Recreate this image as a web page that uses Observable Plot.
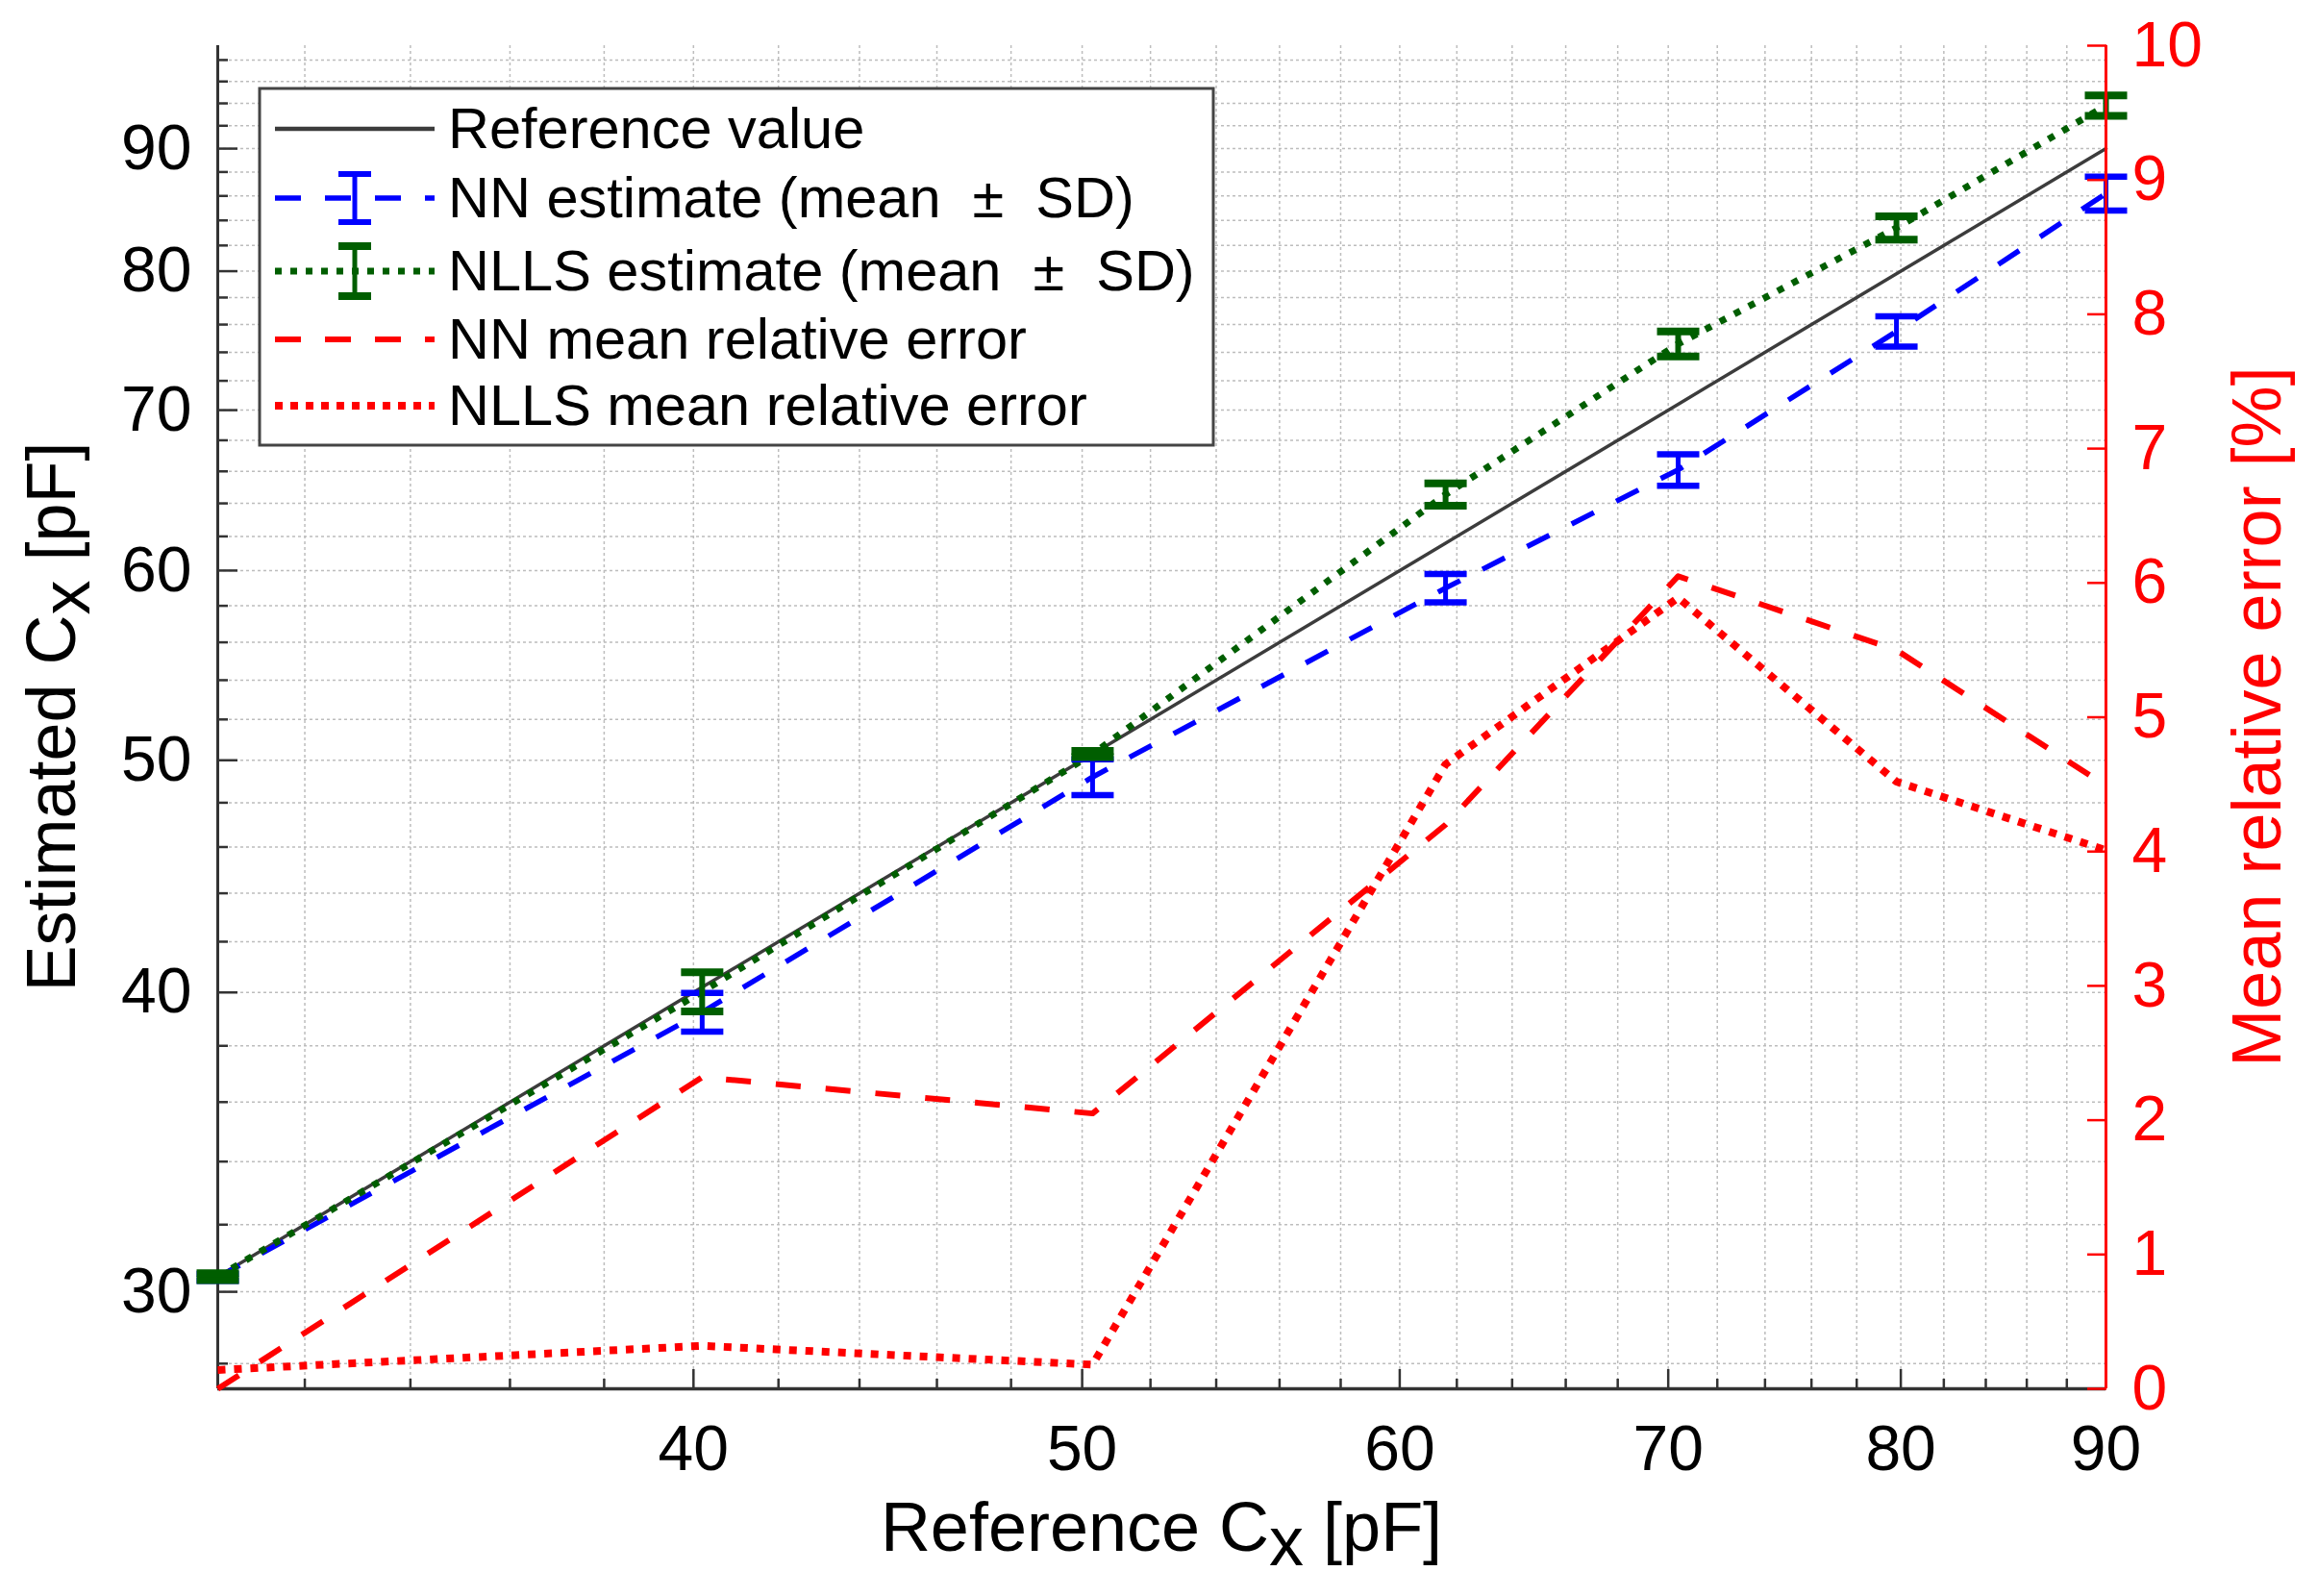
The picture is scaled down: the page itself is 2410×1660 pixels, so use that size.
<!DOCTYPE html>
<html>
<head>
<meta charset="utf-8">
<script src="https://cdn.jsdelivr.net/npm/d3@7"></script>
<script src="https://cdn.jsdelivr.net/npm/@observablehq/plot@0.6"></script>
<style>
html, body { margin: 0; padding: 0; background: #fff; }
#chart { position: relative; width: 2410px; height: 1660px; }
#chart svg { position: absolute; left: 0; top: 0; max-width: none; }
</style>
</head>
<body>
<div id="chart"></div>
<script>
// ---- data ----
const referenceCx   = [30.44, 40.2, 50.3, 61.6, 70.4, 79.8, 90.0];
const nnMean        = [30.42, 39.25, 49.2, 59.0, 66.1, 75.5, 86.2];
const nnSD          = [0.1, 0.73, 0.85, 0.8, 1.0, 1.1, 1.4];
const nllsMean      = [30.44, 40.03, 50.3, 64.55, 74.6, 83.4, 93.8];
const nllsSD        = [0.1, 0.75, 0.15, 0.7, 0.9, 0.93, 0.91];
const nnRelError    = [0.0, 2.32, 2.05, 4.2, 6.05, 5.5, 4.49];
const nllsRelError  = [0.14, 0.32, 0.18, 4.65, 5.89, 4.52, 4.01];

const xMajorTicks = [40, 50, 60, 70, 80, 90];
const yMajorTicks = [30, 40, 50, 60, 70, 80, 90];
const errTicks    = [0, 1, 2, 3, 4, 5, 6, 7, 8, 9, 10];
const xMinorTicks = d3.range(32, 90, 2).filter(v => v % 10 !== 0);
const yMinorTicks = d3.range(28, 100, 2).filter(v => v % 10 !== 0);
const xGridValues = d3.range(32, 91, 2);
const yGridValues = d3.range(28, 99, 2);
const yDomain   = [27.33, 99.36];
const errDomain = [0, 10];

const legendLabels = [
  "Reference value",
  "NN estimate (mean  \u00B1  SD)",
  "NLLS estimate (mean  \u00B1  SD)",
  "NN mean relative error",
  "NLLS mean relative error"
];

// ---- styling ----
const W = 2410, H = 1660;
const M = {left: 226, right: 220, top: 47, bottom: 216};
const FONT = "'Liberation Sans', Arial, Helvetica, sans-serif";
const AX = "#333333", REF = "#3c3c3c", BLUE = "#0000ff", GREEN = "#005e00", RED = "#ff0000";
const GRID = {stroke: "#bdbdbd", strokeOpacity: 1, strokeWidth: 1.5, strokeDasharray: "3,3"};

const rows = referenceCx.map((x, i) => ({
  ref: x, nn: nnMean[i], nnSD: nnSD[i], nlls: nllsMean[i], nllsSD: nllsSD[i],
  nnErr: nnRelError[i], nllsErr: nllsRelError[i]
}));
const xDomain = d3.extent(referenceCx);

const capSymbol = {draw(ctx, size) { const r = Math.sqrt(size / Math.PI); ctx.moveTo(-r, 0); ctx.lineTo(r, 0); }};

const common = {
  width: W, height: H,
  marginLeft: M.left, marginRight: M.right, marginTop: M.top, marginBottom: M.bottom
};

const basePlot = Plot.plot({
  ...common,
  style: {fontFamily: FONT, background: "white", overflow: "visible"},
  x: {type: "log", domain: xDomain, axis: null},
  y: {type: "log", domain: yDomain, axis: null},
  marks: [
    Plot.gridX(xGridValues, GRID),
    Plot.gridY(yGridValues, GRID),
    Plot.axisY(yMinorTicks, {anchor: "left", tickSize: -11, fill: "none", stroke: AX, strokeWidth: 2.5, label: null}),
    Plot.axisY(yMajorTicks, {anchor: "left", tickSize: -21, fill: "none", stroke: AX, strokeWidth: 2.5, label: null}),
    Plot.axisY(yMajorTicks, {anchor: "left", tickSize: 0, tickPadding: 27, fontSize: 66, fill: "#000", label: null, tickFormat: d => String(d)}),
    Plot.axisX(xMinorTicks, {anchor: "bottom", tickSize: -10, fill: "none", stroke: AX, strokeWidth: 2.5, label: null}),
    Plot.axisX(xMajorTicks, {anchor: "bottom", tickSize: -20, fill: "none", stroke: AX, strokeWidth: 2.5, label: null}),
    Plot.axisX(xMajorTicks, {anchor: "bottom", tickSize: 0, tickPadding: 38, fontSize: 66, fill: "#000", label: null, tickFormat: d => String(d)}),
    Plot.ruleY([yDomain[0]], {stroke: AX, strokeWidth: 3.5}),
    Plot.ruleX([xDomain[0]], {stroke: AX, strokeWidth: 3}),
    Plot.line(rows, {x: "ref", y: "ref", stroke: REF, strokeWidth: 3.5}),
    Plot.line(rows, {x: "ref", y: "nn", stroke: BLUE, strokeWidth: 5.5, strokeDasharray: "26,26", strokeLinecap: "butt"}),
    Plot.line(rows, {x: "ref", y: "nlls", stroke: GREEN, strokeWidth: 7, strokeDasharray: "7,10", strokeLinecap: "butt"}),
    Plot.ruleX(rows, {x: "ref", y1: d => d.nn - d.nnSD, y2: d => d.nn + d.nnSD, stroke: BLUE, strokeWidth: 5}),
    Plot.dot(rows, {x: "ref", y: d => d.nn - d.nnSD, symbol: capSymbol, r: 22, fill: "none", stroke: BLUE, strokeWidth: 6.5}),
    Plot.dot(rows, {x: "ref", y: d => d.nn + d.nnSD, symbol: capSymbol, r: 22, fill: "none", stroke: BLUE, strokeWidth: 6.5}),
    Plot.ruleX(rows, {x: "ref", y1: d => d.nlls - d.nllsSD, y2: d => d.nlls + d.nllsSD, stroke: GREEN, strokeWidth: 6}),
    Plot.dot(rows, {x: "ref", y: d => d.nlls - d.nllsSD, symbol: capSymbol, r: 22, fill: "none", stroke: GREEN, strokeWidth: 8}),
    Plot.dot(rows, {x: "ref", y: d => d.nlls + d.nllsSD, symbol: capSymbol, r: 22, fill: "none", stroke: GREEN, strokeWidth: 8})
  ]
});

const errPlot = Plot.plot({
  ...common,
  style: {fontFamily: FONT, background: "transparent", overflow: "visible"},
  x: {type: "log", domain: xDomain, axis: null},
  y: {domain: errDomain, axis: null},
  marks: [
    Plot.line(rows, {x: "ref", y: "nnErr", stroke: RED, strokeWidth: 6, strokeDasharray: "26,26", strokeLinecap: "butt"}),
    Plot.line(rows, {x: "ref", y: "nllsErr", stroke: RED, strokeWidth: 8, strokeDasharray: "8,9", strokeLinecap: "butt"}),
    Plot.axisY(errTicks, {anchor: "right", tickSize: -20, fill: "none", stroke: RED, strokeWidth: 2.5, label: null}),
    Plot.axisY(errTicks, {anchor: "right", tickSize: 0, tickPadding: 27, fontSize: 66, fill: RED, label: null, tickFormat: d => String(d)}),
    Plot.ruleX([xDomain[1]], {stroke: RED, strokeWidth: 3})
  ]
});

const chart = document.getElementById("chart");
chart.appendChild(basePlot);
chart.appendChild(errPlot);

// ---- axis titles ----
const overlay = d3.select(errPlot);
function title(parts, transform, fill) {
  const t = overlay.append("text")
    .attr("transform", transform)
    .attr("text-anchor", "middle")
    .attr("font-family", FONT)
    .attr("font-size", 72)
    .attr("fill", fill);
  parts.forEach(([s, dy]) => t.append("tspan").attr("dy", dy).text(s));
}
const cy = M.top + (H - M.top - M.bottom) / 2;
const cx = M.left + (W - M.left - M.right) / 2;
title([["Estimated C", 0], ["x", 15], [" [pF]", -15]], `translate(78,${cy}) rotate(-90)`, "#000");
title([["Reference C", 0], ["x", 15], [" [pF]", -15]], `translate(${cx},1613)`, "#000");
title([["Mean relative error [%]", 0]], `translate(2372,${cy}) rotate(-90)`, RED);

// ---- legend ----
const lg = overlay.append("g").attr("font-family", FONT).attr("text-anchor", "start");
lg.append("rect").attr("x", 270).attr("y", 92).attr("width", 992).attr("height", 371)
  .attr("fill", "#ffffff").attr("stroke", "#444").attr("stroke-width", 3);
const rowY = [134, 206, 282, 353, 422];
const sx1 = 286, sx2 = 452, smid = 369;
const samples = [
  {stroke: REF, w: 4.5, dash: null},
  {stroke: BLUE, w: 5.5, dash: "27,25", bar: 25, capW: 6},
  {stroke: GREEN, w: 7, dash: "7,9", bar: 26, capW: 8},
  {stroke: RED, w: 6, dash: "27,25"},
  {stroke: RED, w: 8, dash: "8,8"}
];
samples.forEach((s, i) => {
  const y = rowY[i];
  lg.append("line").attr("x1", sx1).attr("x2", sx2).attr("y1", y).attr("y2", y)
    .attr("stroke", s.stroke).attr("stroke-width", s.w).attr("stroke-dasharray", s.dash);
  if (s.bar) {
    lg.append("line").attr("x1", smid).attr("x2", smid).attr("y1", y - s.bar).attr("y2", y + s.bar)
      .attr("stroke", s.stroke).attr("stroke-width", 5);
    [y - s.bar, y + s.bar].forEach(yy => lg.append("line").attr("x1", smid - 17).attr("x2", smid + 17)
      .attr("y1", yy).attr("y2", yy).attr("stroke", s.stroke).attr("stroke-width", s.capW));
  }
  lg.append("text").attr("x", 466).attr("y", y + 20).attr("font-size", 59.5).attr("fill", "#000")
    .attr("text-anchor", "start").style("white-space", "pre").text(legendLabels[i]);
});
</script>
</body>
</html>
